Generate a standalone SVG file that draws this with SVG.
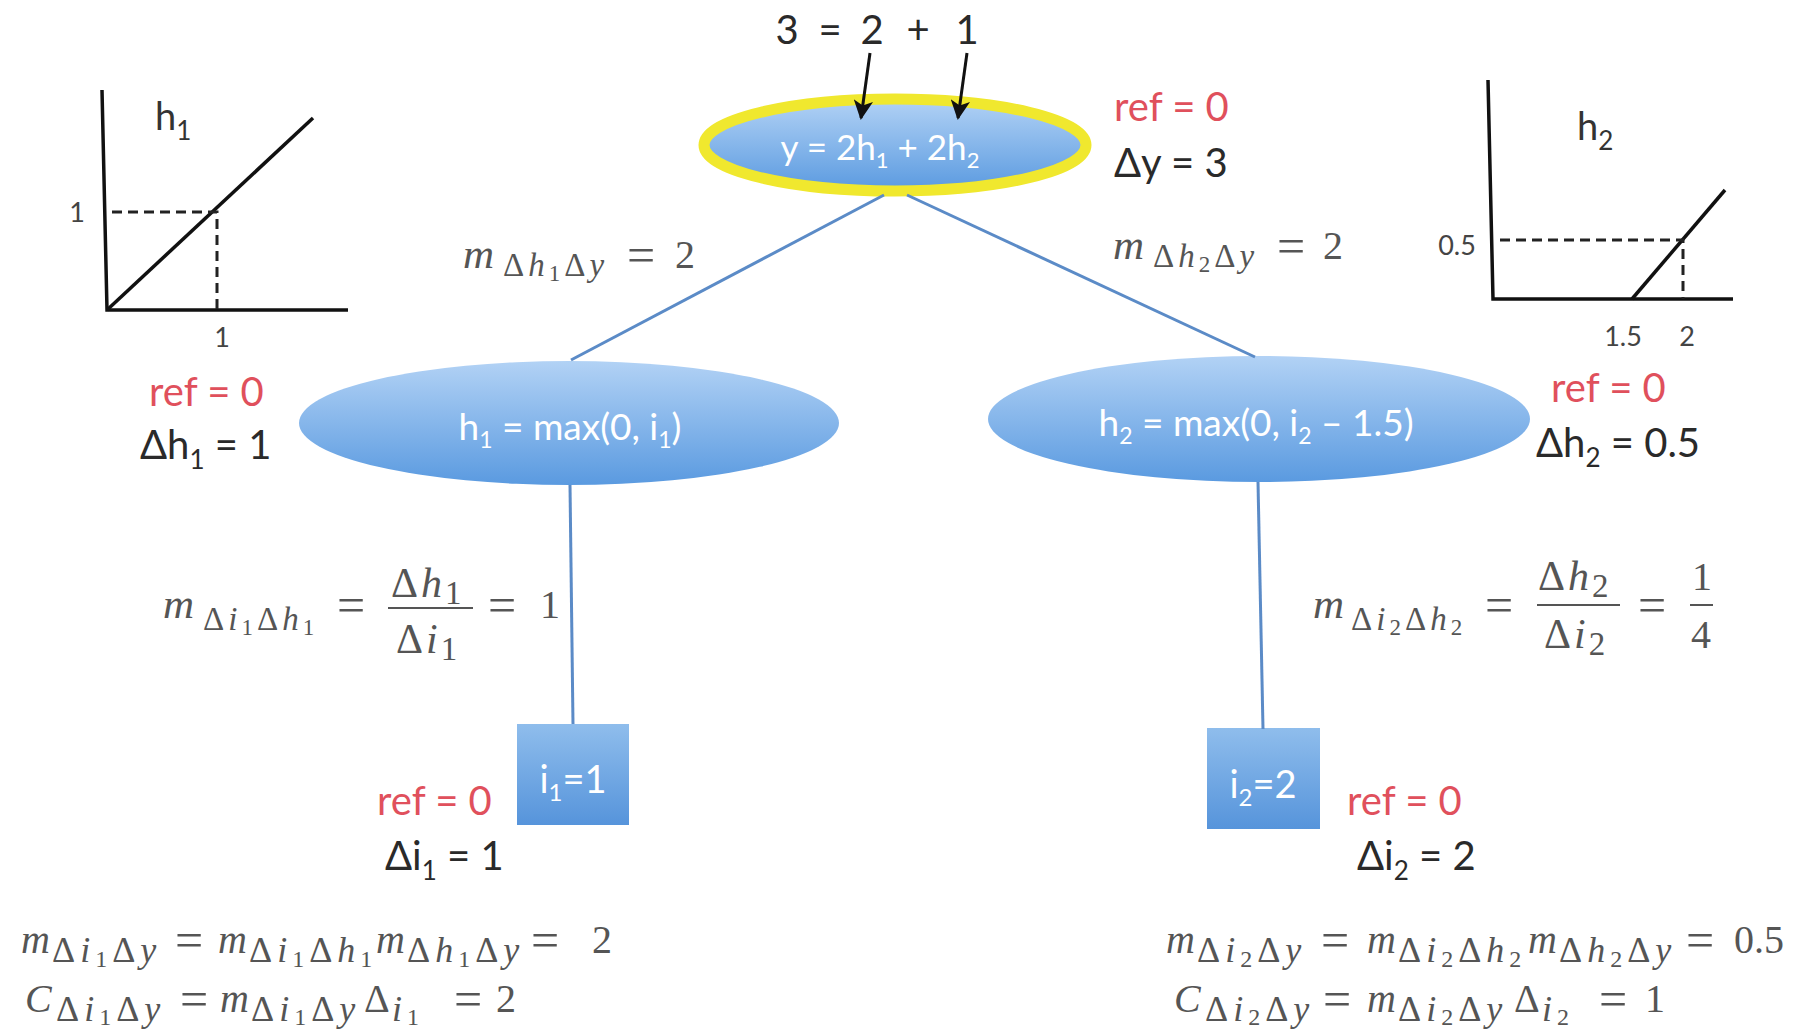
<svg xmlns="http://www.w3.org/2000/svg" width="1801" height="1033" viewBox="0 0 1801 1033">
<defs>
<linearGradient id="gEll" x1="0" y1="0" x2="0" y2="1"><stop offset="0" stop-color="#B2D2F5"/><stop offset="1" stop-color="#5A9AE0"/></linearGradient>
<linearGradient id="gBox" x1="0" y1="0" x2="0" y2="1"><stop offset="0" stop-color="#8FBDEC"/><stop offset="1" stop-color="#5694DB"/></linearGradient>
<marker id="ah" viewBox="0 0 10 10" refX="9" refY="5" markerWidth="7.5" markerHeight="6.5" orient="auto" markerUnits="strokeWidth"><path d="M0,0 L10,5 L0,10 L2.5,5 z" fill="#111"/></marker>
<style>
.edge{stroke:#5B8BC7;stroke-width:3;fill:none}
.arr{stroke:#111;stroke-width:3;fill:none}
.axis{stroke:#111;stroke-width:3.5;fill:none}
.dash{stroke:#222;stroke-width:3;fill:none;stroke-dasharray:10 6}
.lab{font-family:Lato,"Liberation Sans",sans-serif;font-size:40px;fill:#2a2a2a}
.red{fill:#E0505C}
.node{font-family:Lato,"Liberation Sans",sans-serif;fill:#fff;font-size:35px;text-anchor:middle}
.node37{font-size:37px}
.node38{font-size:38px}
.gl{font-family:Lato,"Liberation Sans",sans-serif;font-size:27px;fill:#444}
.gh{font-size:38px;fill:#333}
.math{font-family:"Liberation Serif",serif;font-size:40px;fill:#555}
.it{font-style:italic}
.mm{font-style:italic;font-size:43px}
.eq{font-size:50px}
.s{font-size:33px;letter-spacing:4px}
.ss{font-size:23px;letter-spacing:4px}
.bs{font-size:36px;letter-spacing:5px}
.bss{font-size:24px;letter-spacing:5px}
.fr{font-size:42px;letter-spacing:3px}
.bar{stroke:#555;stroke-width:2}
</style>
</defs>
<rect width="1801" height="1033" fill="#fff"/>

<g id="node-y">
<ellipse cx="895" cy="145" rx="191" ry="46" fill="url(#gEll)" stroke="#F0E82E" stroke-width="11"/>
<text class="node" x="880" y="160">y = 2h<tspan font-size="22" dy="8">1</tspan><tspan dy="-8"> + 2h</tspan><tspan font-size="22" dy="8">2</tspan></text>
</g>
<g id="node-h1">
<ellipse cx="569" cy="423" rx="270" ry="62" fill="url(#gEll)"/>
<text class="node node37" x="570" y="440">h<tspan font-size="23" dy="8">1</tspan><tspan dy="-8"> = max(0, i</tspan><tspan font-size="23" dy="8">1</tspan><tspan dy="-8">)</tspan></text>
</g>
<g id="node-h2">
<ellipse cx="1259" cy="419" rx="271" ry="63" fill="url(#gEll)"/>
<text class="node node37" x="1256" y="436">h<tspan font-size="23" dy="8">2</tspan><tspan dy="-8"> = max(0, i</tspan><tspan font-size="23" dy="8">2</tspan><tspan dy="-8"> – 1.5)</tspan></text>
</g>
<g id="node-i1">
<rect x="517" y="724" width="112" height="101" fill="url(#gBox)"/>
<text class="node node38" x="573" y="793">i<tspan font-size="24" dy="8">1</tspan><tspan dy="-8">=1</tspan></text>
</g>
<g id="node-i2">
<rect x="1207" y="728" width="113" height="101" fill="url(#gBox)"/>
<text class="node node38" x="1263" y="798">i<tspan font-size="24" dy="8">2</tspan><tspan dy="-8">=2</tspan></text>
</g>

<g id="connectors">
<line class="edge" x1="884" y1="195" x2="571" y2="360"/>
<line class="edge" x1="907" y1="195" x2="1255" y2="357"/>
<line class="edge" x1="570" y1="485" x2="573" y2="724"/>
<line class="edge" x1="1258" y1="482" x2="1263" y2="729"/>
<line class="arr" x1="870" y1="53" x2="861" y2="118" marker-end="url(#ah)"/>
<line class="arr" x1="967" y1="53" x2="958" y2="118" marker-end="url(#ah)"/>
</g>

<g id="top-sum">
<text x="787" y="44" text-anchor="middle" class="lab">3</text>
<text x="830" y="44" text-anchor="middle" class="lab">=</text>
<text x="872" y="44" text-anchor="middle" class="lab">2</text>
<text x="918" y="44" text-anchor="middle" class="lab">+</text>
<text x="967" y="44" text-anchor="middle" class="lab">1</text>
</g>

<g id="labels">
<text class="lab red" x="1114" y="121">ref = 0</text>
<text class="lab" x="1114" y="177">Δy = 3</text>
<text class="lab red" x="149" y="406">ref = 0</text>
<text class="lab" x="140" y="459">Δh<tspan font-size="26" dy="10">1</tspan><tspan dy="-10"> = 1</tspan></text>
<text class="lab red" x="1551" y="402">ref = 0</text>
<text class="lab" x="1536" y="457">Δh<tspan font-size="26" dy="10">2</tspan><tspan dy="-10"> = 0.5</tspan></text>
<text class="lab red" x="377" y="815">ref = 0</text>
<text class="lab" x="385" y="870">Δi<tspan font-size="26" dy="10">1</tspan><tspan dy="-10"> = 1</tspan></text>
<text class="lab red" x="1347" y="815">ref = 0</text>
<text class="lab" x="1357" y="870">Δi<tspan font-size="26" dy="10">2</tspan><tspan dy="-10"> = 2</tspan></text>
</g>

<g id="graph-h1">
<polyline class="axis" points="102,90 107,310 348,310"/>
<line class="axis" x1="107" y1="310" x2="313" y2="118"/>
<polyline class="dash" points="112,212 217,212 217,310"/>
<text class="gl" x="77" y="222" text-anchor="middle">1</text>
<text class="gl" x="222" y="347" text-anchor="middle">1</text>
<text class="gl gh" x="155" y="130">h<tspan font-size="26" dy="10">1</tspan></text>
</g>

<g id="graph-h2">
<polyline class="axis" points="1488,80 1493,299 1733,299"/>
<line class="axis" x1="1632" y1="299" x2="1725" y2="190"/>
<polyline class="dash" points="1500,240 1683,240 1683,299"/>
<text class="gl" x="1457" y="255" text-anchor="middle">0.5</text>
<text class="gl" x="1623" y="346" text-anchor="middle">1.5</text>
<text class="gl" x="1687" y="346" text-anchor="middle">2</text>
<text class="gl gh" x="1577" y="140">h<tspan font-size="26" dy="10">2</tspan></text>
</g>

<g id="math">
<text class="math"><tspan x="463" y="268" class="mm">m</tspan><tspan x="503" y="276" class="s">Δ</tspan><tspan class="s it">h</tspan><tspan class="ss" y="281">1</tspan><tspan class="s" y="276">Δ</tspan><tspan class="s it">y</tspan><tspan x="627" y="272" class="eq">=</tspan><tspan x="675" y="268">2</tspan></text>
<text class="math"><tspan x="1113" y="259" class="mm">m</tspan><tspan x="1153" y="267" class="s">Δ</tspan><tspan class="s it">h</tspan><tspan class="ss" y="272">2</tspan><tspan class="s" y="267">Δ</tspan><tspan class="s it">y</tspan><tspan x="1277" y="263" class="eq">=</tspan><tspan x="1323" y="259">2</tspan></text>

<text class="math"><tspan x="163" y="618" class="mm">m</tspan><tspan x="203" y="630" class="s">Δ</tspan><tspan class="s it">i</tspan><tspan class="ss" y="635">1</tspan><tspan class="s" y="630">Δ</tspan><tspan class="s it">h</tspan><tspan class="ss" y="635">1</tspan><tspan x="337" y="622" class="eq">=</tspan><tspan x="391" y="597" class="fr">Δ</tspan><tspan class="fr it">h</tspan><tspan class="s" y="604">1</tspan><tspan x="396" y="653" class="fr">Δ</tspan><tspan class="fr it">i</tspan><tspan class="s" y="660">1</tspan><tspan x="488" y="622" class="eq">=</tspan><tspan x="540" y="618">1</tspan></text>
<line class="bar" x1="388" y1="608" x2="473" y2="608"/>

<text class="math"><tspan x="1313" y="618" class="mm">m</tspan><tspan x="1351" y="630" class="s">Δ</tspan><tspan class="s it">i</tspan><tspan class="ss" y="635">2</tspan><tspan class="s" y="630">Δ</tspan><tspan class="s it">h</tspan><tspan class="ss" y="635">2</tspan><tspan x="1485" y="622" class="eq">=</tspan><tspan x="1538" y="590" class="fr">Δ</tspan><tspan class="fr it">h</tspan><tspan class="s" y="597">2</tspan><tspan x="1544" y="648" class="fr">Δ</tspan><tspan class="fr it">i</tspan><tspan class="s" y="655">2</tspan><tspan x="1638" y="622" class="eq">=</tspan><tspan x="1692" y="590">1</tspan><tspan x="1691" y="648">4</tspan></text>
<line class="bar" x1="1537" y1="605" x2="1620" y2="605"/>
<line class="bar" x1="1690" y1="605" x2="1713" y2="605"/>

<text class="math"><tspan x="21" y="953" class="it">m</tspan><tspan x="52" y="962" class="bs">Δ</tspan><tspan class="bs it">i</tspan><tspan class="bss" y="967">1</tspan><tspan class="bs" y="962">Δ</tspan><tspan class="bs it">y</tspan><tspan x="175" y="957" class="eq">=</tspan><tspan x="218" y="953" class="it">m</tspan><tspan x="249" y="962" class="bs">Δ</tspan><tspan class="bs it">i</tspan><tspan class="bss" y="967">1</tspan><tspan class="bs" y="962">Δ</tspan><tspan class="bs it">h</tspan><tspan class="bss" y="967">1</tspan><tspan x="376" y="953" class="it">m</tspan><tspan x="407" y="962" class="bs">Δ</tspan><tspan class="bs it">h</tspan><tspan class="bss" y="967">1</tspan><tspan class="bs" y="962">Δ</tspan><tspan class="bs it">y</tspan><tspan x="531" y="957" class="eq">=</tspan><tspan x="592" y="953">2</tspan></text>

<text class="math"><tspan x="25" y="1012" class="it">C</tspan><tspan x="56" y="1021" class="bs">Δ</tspan><tspan class="bs it">i</tspan><tspan class="bss" y="1025">1</tspan><tspan class="bs" y="1021">Δ</tspan><tspan class="bs it">y</tspan><tspan x="180" y="1016" class="eq">=</tspan><tspan x="220" y="1012" class="it">m</tspan><tspan x="251" y="1021" class="bs">Δ</tspan><tspan class="bs it">i</tspan><tspan class="bss" y="1025">1</tspan><tspan class="bs" y="1021">Δ</tspan><tspan class="bs it">y</tspan><tspan x="364" y="1012">Δ</tspan><tspan x="392" y="1021" class="bs it">i</tspan><tspan class="bss" y="1025">1</tspan><tspan x="454" y="1016" class="eq">=</tspan><tspan x="496" y="1012">2</tspan></text>

<text class="math"><tspan x="1166" y="953" class="it">m</tspan><tspan x="1197" y="962" class="bs">Δ</tspan><tspan class="bs it">i</tspan><tspan class="bss" y="967">2</tspan><tspan class="bs" y="962">Δ</tspan><tspan class="bs it">y</tspan><tspan x="1321" y="957" class="eq">=</tspan><tspan x="1367" y="953" class="it">m</tspan><tspan x="1398" y="962" class="bs">Δ</tspan><tspan class="bs it">i</tspan><tspan class="bss" y="967">2</tspan><tspan class="bs" y="962">Δ</tspan><tspan class="bs it">h</tspan><tspan class="bss" y="967">2</tspan><tspan x="1528" y="953" class="it">m</tspan><tspan x="1559" y="962" class="bs">Δ</tspan><tspan class="bs it">h</tspan><tspan class="bss" y="967">2</tspan><tspan class="bs" y="962">Δ</tspan><tspan class="bs it">y</tspan><tspan x="1686" y="957" class="eq">=</tspan><tspan x="1734" y="953">0.5</tspan></text>

<text class="math"><tspan x="1174" y="1012" class="it">C</tspan><tspan x="1205" y="1021" class="bs">Δ</tspan><tspan class="bs it">i</tspan><tspan class="bss" y="1025">2</tspan><tspan class="bs" y="1021">Δ</tspan><tspan class="bs it">y</tspan><tspan x="1323" y="1016" class="eq">=</tspan><tspan x="1367" y="1012" class="it">m</tspan><tspan x="1398" y="1021" class="bs">Δ</tspan><tspan class="bs it">i</tspan><tspan class="bss" y="1025">2</tspan><tspan class="bs" y="1021">Δ</tspan><tspan class="bs it">y</tspan><tspan x="1514" y="1012">Δ</tspan><tspan x="1542" y="1021" class="bs it">i</tspan><tspan class="bss" y="1025">2</tspan><tspan x="1599" y="1016" class="eq">=</tspan><tspan x="1645" y="1012">1</tspan></text>
</g>
</svg>
